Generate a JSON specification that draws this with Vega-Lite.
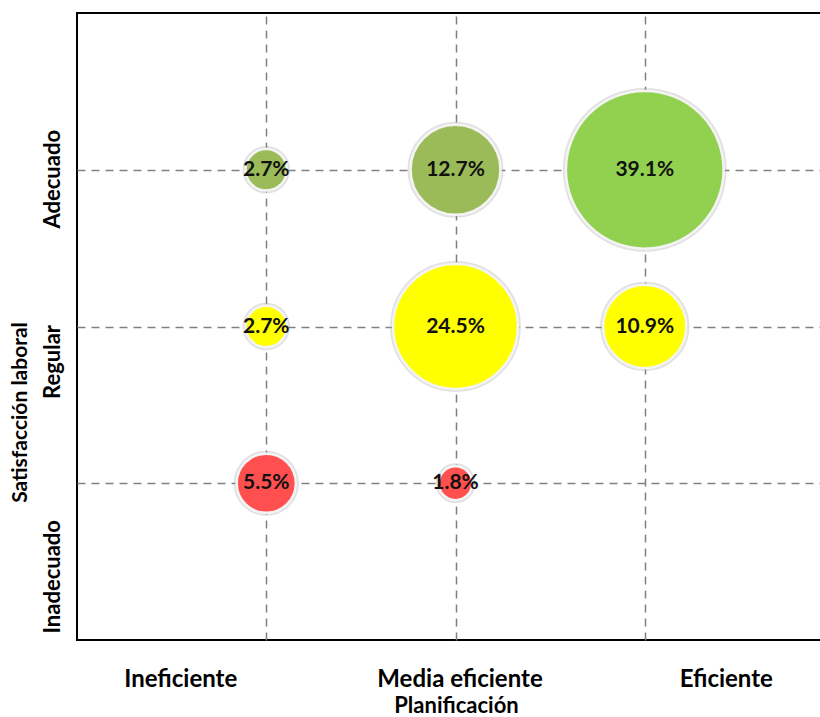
{
  "$schema": "https://vega.github.io/schema/vega-lite/v6.json",
  "autosize": {"type": "none"},
  "padding": {"left": 77, "top": 13, "right": 0, "bottom": 77},
  "width": 757,
  "height": 627,
  "background": "white",
  "config": {
    "view": {"stroke": "#000000", "strokeWidth": 2},
    "font": "Lato"
  },
  "data": {
    "values": [
      {"Planificación": "Ineficiente", "Satisfacción": "Adecuado", "pct": 0.027},
      {"Planificación": "Media eficiente", "Satisfacción": "Adecuado", "pct": 0.127},
      {"Planificación": "Eficiente", "Satisfacción": "Adecuado", "pct": 0.391},
      {"Planificación": "Ineficiente", "Satisfacción": "Regular", "pct": 0.027},
      {"Planificación": "Media eficiente", "Satisfacción": "Regular", "pct": 0.245},
      {"Planificación": "Eficiente", "Satisfacción": "Regular", "pct": 0.109},
      {"Planificación": "Ineficiente", "Satisfacción": "Inadecuado", "pct": 0.055},
      {"Planificación": "Media eficiente", "Satisfacción": "Inadecuado", "pct": 0.018}
    ]
  },
  "encoding": {
    "x": {
      "field": "Planificación",
      "type": "nominal",
      "sort": ["Ineficiente", "Media eficiente", "Eficiente"],
      "scale": {"type": "point", "padding": 1},
      "axis": {
        "title": "Planificación",
        "titleFont": "Lato",
        "titleFontSize": 22,
        "titleFontWeight": "bold",
        "titleColor": "#000000",
        "titleX": 379,
        "titleY": 65,
        "titleAlign": "center",
        "titleBaseline": "middle",
        "labelFont": "Lato",
        "labelFontSize": 24,
        "labelFontWeight": "bold",
        "labelColor": "#000000",
        "labelAngle": 0,
        "labelAlign": "center",
        "labelBaseline": "middle",
        "labelPadding": 39,
        "labelOffset": {
          "condition": [
            {"test": "datum.value == 'Ineficiente'", "value": -86},
            {"test": "datum.value == 'Eficiente'", "value": 81}
          ],
          "value": 4
        },
        "domain": false,
        "ticks": false,
        "grid": true,
        "gridColor": "#808080",
        "gridDash": [8, 6],
        "gridWidth": 1.5
      }
    },
    "y": {
      "field": "Satisfacción",
      "type": "nominal",
      "sort": ["Adecuado", "Regular", "Inadecuado"],
      "scale": {"type": "point", "padding": 1},
      "axis": {
        "title": "Satisfacción laboral",
        "titleFont": "Lato",
        "titleFontSize": 21,
        "titleFontWeight": "bold",
        "titleColor": "#000000",
        "titleAngle": 270,
        "titleX": -57,
        "titleY": 399,
        "titleAlign": "center",
        "titleBaseline": "middle",
        "labelFont": "Lato",
        "labelFontSize": 22,
        "labelFontWeight": "bold",
        "labelColor": "#000000",
        "labelAngle": 270,
        "labelAlign": "center",
        "labelBaseline": "middle",
        "labelPadding": 25,
        "labelOffset": {
          "condition": [
            {"test": "datum.value == 'Adecuado'", "value": 9},
            {"test": "datum.value == 'Regular'", "value": 35}
          ],
          "value": 93
        },
        "domain": false,
        "ticks": false,
        "grid": true,
        "gridColor": "#808080",
        "gridDash": [8, 6],
        "gridWidth": 1.5
      }
    }
  },
  "layer": [
    {
      "mark": {"type": "circle", "opacity": 1, "stroke": "#9a9a9a", "strokeWidth": 6, "strokeOpacity": 0.3},
      "encoding": {
        "size": {
          "field": "pct",
          "type": "quantitative",
          "scale": {"type": "linear", "domain": [0, 0.391], "range": [0, 24885], "zero": true},
          "legend": null
        },
        "color": {
          "condition": {"test": "datum.pct > 0.3", "value": "#92D050"},
          "field": "Satisfacción",
          "type": "nominal",
          "scale": {
            "domain": ["Adecuado", "Regular", "Inadecuado"],
            "range": ["#9BBB59", "#FFFF00", "#FF4F4F"]
          },
          "legend": null
        }
      }
    },
    {
      "mark": {"type": "circle", "opacity": 1, "stroke": "#f4f4f4", "strokeWidth": 2.5},
      "encoding": {
        "size": {
          "field": "pct",
          "type": "quantitative",
          "scale": {"type": "linear", "domain": [0, 0.391], "range": [0, 24885], "zero": true},
          "legend": null
        },
        "color": {
          "condition": {"test": "datum.pct > 0.3", "value": "#92D050"},
          "field": "Satisfacción",
          "type": "nominal",
          "scale": {
            "domain": ["Adecuado", "Regular", "Inadecuado"],
            "range": ["#9BBB59", "#FFFF00", "#FF4F4F"]
          },
          "legend": null
        }
      }
    },
    {
      "mark": {"type": "text", "font": "Lato", "fontSize": 21, "fontWeight": "bold", "color": "#111111", "align": "center", "baseline": "middle"},
      "encoding": {
        "text": {"field": "pct", "type": "quantitative", "format": ".1%"}
      }
    }
  ]
}
